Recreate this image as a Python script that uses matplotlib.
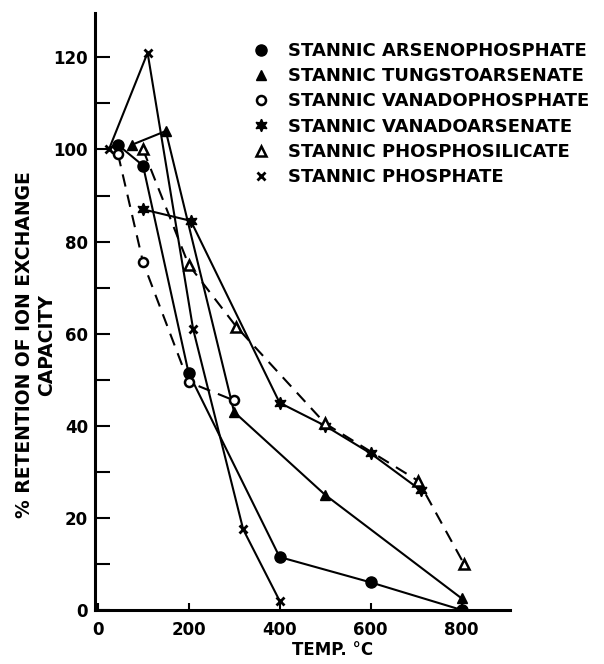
import matplotlib
matplotlib.use("Agg")
import matplotlib.pyplot as plt
from matplotlib.lines import Line2D

plt.rcParams['font.family'] = ['DejaVu Sans']
plt.rcParams['font.weight'] = 'bold'

# ---- data ----
arseno_x = [45, 100, 200, 400, 600, 800]
arseno_y = [101, 96.5, 51.5, 11.5, 6, 0]

tungsto_x = [75, 150, 300, 500, 800]
tungsto_y = [101, 104, 43, 25, 2.5]

vanadop_x = [45, 100, 200, 300]
vanadop_y = [99, 75.5, 49.5, 45.5]

vanadoars_x = [100, 205, 400, 500, 600, 710]
vanadoars_y = [87, 84.5, 45, 40, 34, 26]

phosphosil_x = [100, 200, 305, 500, 705, 805]
phosphosil_y = [100, 75, 61.5, 40.5, 28, 10]

phosphate_x = [25, 110, 210, 320, 400]
phosphate_y = [100, 121, 61, 17.5, 2]

labels = ["STANNIC ARSENOPHOSPHATE", "STANNIC TUNGSTOARSENATE",
          "STANNIC VANADOPHOSPHATE", "STANNIC VANADOARSENATE",
          "STANNIC PHOSPHOSILICATE", "STANNIC PHOSPHATE"]

x_ticks = [0, 200, 400, 600, 800]
y_major = [0, 20, 40, 60, 80, 100, 120]
y_minor = [10, 30, 50, 70, 90, 110]

W, H = 604, 664
fig = plt.figure(figsize=(W / 100, H / 100), dpi=100)
ax = fig.add_axes([95 / W, (H - 610) / H, (510 - 95) / W, (610 - 12.7) / H])

lw = 1.5
dash = (6, 4)
star = (6, 1, 0)

ax.plot(arseno_x, arseno_y, color='black', lw=lw, marker='o', ms=8,
        mfc='black', mec='black')
ax.plot(tungsto_x, tungsto_y, color='black', lw=lw, marker='^', ms=7,
        mfc='black', mec='black')
ax.plot(vanadop_x, vanadop_y, color='black', lw=lw, ls=(0, dash), marker='o', ms=6.5,
        mfc='white', mec='black', mew=1.8)
ax.plot(vanadoars_x, vanadoars_y, color='black', lw=lw, marker=star, ms=9,
        mfc='black', mec='black')
ax.plot(phosphosil_x, phosphosil_y, color='black', lw=lw, ls=(0, dash), marker='^', ms=6.5,
        mfc='white', mec='black', mew=1.8)
ax.plot(phosphate_x, phosphate_y, color='black', lw=lw, marker='x', ms=6,
        mec='black', mew=2)

ax.set_xlim(-5.5, 906)
ax.set_ylim(0, 129.7)

for s in ['top', 'right']:
    ax.spines[s].set_visible(False)
for s in ['left', 'bottom']:
    ax.spines[s].set_linewidth(2.2)

ax.set_xticks(x_ticks)
ax.set_xticklabels([str(v) for v in x_ticks])
ax.set_yticks(y_major)
ax.set_yticklabels([str(v) for v in y_major])
ax.set_yticks(y_minor, minor=True)
ax.tick_params(axis='y', which='both', direction='in', length=11, width=1.5,
               pad=5, labelsize=12)
ax.tick_params(axis='x', which='both', direction='in', length=5, width=1.5,
               pad=8, labelsize=12)
for t in ax.get_xticklabels() + ax.get_yticklabels():
    t.set_fontweight('bold')

ax.set_xlabel("TEMP. °C", fontsize=12, fontweight='bold', va='center')
ax.xaxis.set_label_coords((333 - 95) / 415, -(650 - 610) / 597)

fig.text(36 / W, (H - 345) / H, "% RETENTION OF ION EXCHANGE\nCAPACITY",
         rotation=90, ha='center', va='center', multialignment='center',
         fontsize=13.5, fontweight='bold', linespacing=1.2)

handles = [
    Line2D([], [], ls='none', marker='o', ms=8, mfc='black', mec='black'),
    Line2D([], [], ls='none', marker='^', ms=7, mfc='black', mec='black'),
    Line2D([], [], ls='none', marker='o', ms=6.5, mfc='white', mec='black', mew=1.8),
    Line2D([], [], ls='none', marker=star, ms=9, mfc='black', mec='black'),
    Line2D([], [], ls='none', marker='^', ms=6.5, mfc='white', mec='black', mew=1.8),
    Line2D([], [], ls='none', marker='x', ms=6, mec='black', mew=2),
]
leg = ax.legend(handles, labels, loc='upper left',
                bbox_to_anchor=(252 / W, 1 - 42 / H), bbox_transform=fig.transFigure,
                frameon=False, fontsize=13, handlelength=1.0, handletextpad=1.0,
                labelspacing=0.4, borderpad=0, borderaxespad=0)
for t in leg.get_texts():
    t.set_fontweight('bold')

fig.savefig("out.png", dpi=100)
